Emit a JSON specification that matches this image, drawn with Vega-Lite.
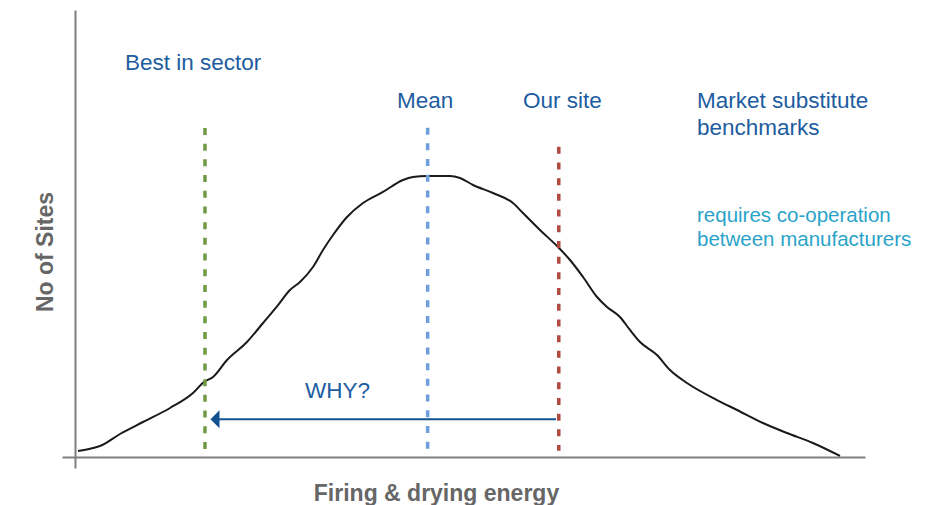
{
  "$schema": "https://vega.github.io/schema/vega-lite/v6.json",
  "width": 803,
  "height": 458,
  "autosize": {"type": "none"},
  "padding": {"left": 62, "top": 10, "right": 67, "bottom": 37},
  "background": "white",
  "config": {"view": {"stroke": null}},
  "datasets": {
    "curve": [
      {"x": 0.39, "y": 2.14}, {"x": 2.35, "y": 3.2}, {"x": 3.27, "y": 3.91}, {"x": 5.88, "y": 8.19},
      {"x": 8.89, "y": 12.46}, {"x": 12.42, "y": 17.44}, {"x": 15.42, "y": 22.78}, {"x": 16.86, "y": 26.69},
      {"x": 18.04, "y": 28.47}, {"x": 19.87, "y": 34.52}, {"x": 22.48, "y": 40.93}, {"x": 24.58, "y": 47.69},
      {"x": 26.54, "y": 54.09}, {"x": 28.1, "y": 59.43}, {"x": 29.41, "y": 62.28}, {"x": 31.11, "y": 67.62},
      {"x": 32.42, "y": 73.67}, {"x": 33.73, "y": 79.0}, {"x": 35.56, "y": 85.41}, {"x": 37.65, "y": 90.39},
      {"x": 40.26, "y": 94.31}, {"x": 42.88, "y": 98.58}, {"x": 44.18, "y": 99.64}, {"x": 46.01, "y": 100.0},
      {"x": 49.02, "y": 100.0}, {"x": 50.33, "y": 99.29}, {"x": 52.03, "y": 96.8}, {"x": 54.64, "y": 93.95},
      {"x": 57.25, "y": 90.39}, {"x": 58.56, "y": 86.83}, {"x": 60.78, "y": 80.78}, {"x": 63.14, "y": 74.73},
      {"x": 64.71, "y": 70.11}, {"x": 66.41, "y": 64.06}, {"x": 68.24, "y": 56.94}, {"x": 69.54, "y": 53.38},
      {"x": 71.24, "y": 49.82}, {"x": 72.55, "y": 45.2}, {"x": 73.86, "y": 40.93}, {"x": 76.08, "y": 36.3},
      {"x": 77.78, "y": 30.96}, {"x": 80.0, "y": 26.33}, {"x": 83.92, "y": 20.28}, {"x": 86.54, "y": 16.73},
      {"x": 89.93, "y": 12.1}, {"x": 93.07, "y": 8.54}, {"x": 96.47, "y": 4.98}, {"x": 100.0, "y": 0.36}
    ],
    "markers": [
      {"marker": "Best in sector", "x": 16.99, "y": 117.1, "y2": 2.2},
      {"marker": "Mean", "x": 46.1, "y": 117.2, "y2": 2.2},
      {"marker": "Our site", "x": 63.24, "y": 110.4, "y2": 2.2}
    ],
    "arrow": [{"x": 62.88, "x2": 18.82, "y": 13.42}],
    "arrowhead": [{"x": 18.3, "y": 13.42}],
    "labels": [
      {"label": "Best in sector", "x": 6.54, "y": 137.7},
      {"label": "Mean", "x": 42.09, "y": 124.2},
      {"label": "Our site", "x": 58.56, "y": 124.2},
      {"label": "Market substitute", "x": 81.31, "y": 124.2},
      {"label": "benchmarks", "x": 81.31, "y": 114.6},
      {"label": "WHY?", "x": 30.07, "y": 21.0}
    ],
    "notes": [
      {"label": "requires co-operation", "x": 81.31, "y": 83.6},
      {"label": "between manufacturers", "x": 81.31, "y": 75.1}
    ]
  },
  "encoding": {
    "x": {
      "field": "x", "type": "quantitative",
      "scale": {"domain": [-1.7, 103.27], "nice": false, "zero": false},
      "axis": {
        "title": "Firing & drying energy", "offset": -11, "ticks": false, "labels": false, "grid": false,
        "domainColor": "#7f7f7f", "domainWidth": 2,
        "titleFont": "Liberation Sans", "titleFontSize": 23, "titleFontWeight": "bold", "titleColor": "#666666",
        "titleX": 374, "titleY": 43, "titleBaseline": "alphabetic", "titleAlign": "center"
      }
    },
    "y": {
      "field": "y", "type": "quantitative",
      "scale": {"domain": [-3.91, 159.07], "nice": false, "zero": false},
      "axis": {
        "title": "No of Sites", "offset": -13, "ticks": false, "labels": false, "grid": false,
        "domainColor": "#7f7f7f", "domainWidth": 2,
        "titleFont": "Liberation Sans", "titleFontSize": 23, "titleFontWeight": "bold", "titleColor": "#666666",
        "titleX": -23, "titleY": 241.5, "titleAngle": 270, "titleBaseline": "alphabetic", "titleAlign": "center"
      }
    }
  },
  "layer": [
    {
      "data": {"name": "curve"},
      "mark": {"type": "line", "color": "#1a1a1a", "strokeWidth": 2, "interpolate": "monotone"}
    },
    {
      "data": {"name": "markers"},
      "mark": {"type": "rule", "strokeWidth": 3.5, "strokeDash": [7, 8.7]},
      "encoding": {
        "y2": {"field": "y2"},
        "color": {
          "field": "marker", "type": "nominal",
          "scale": {"domain": ["Best in sector", "Mean", "Our site"], "range": ["#6f9a43", "#6e9edb", "#b04a40"]},
          "legend": null
        }
      }
    },
    {
      "data": {"name": "arrow"},
      "mark": {"type": "rule", "color": "#13508f", "strokeWidth": 2},
      "encoding": {"x2": {"field": "x2"}}
    },
    {
      "data": {"name": "arrowhead"},
      "mark": {"type": "point", "shape": "M-1,0L1,-2L1,2Z", "filled": true, "opacity": 1, "color": "#13508f", "size": 81}
    },
    {
      "data": {"name": "labels"},
      "mark": {"type": "text", "align": "left", "baseline": "alphabetic", "font": "Liberation Sans", "fontSize": 22.5, "color": "#1d5c9f"},
      "encoding": {"text": {"field": "label"}}
    },
    {
      "data": {"name": "notes"},
      "mark": {"type": "text", "align": "left", "baseline": "alphabetic", "font": "Liberation Sans", "fontSize": 20.5, "color": "#2aa3c8"},
      "encoding": {"text": {"field": "label"}}
    }
  ]
}
